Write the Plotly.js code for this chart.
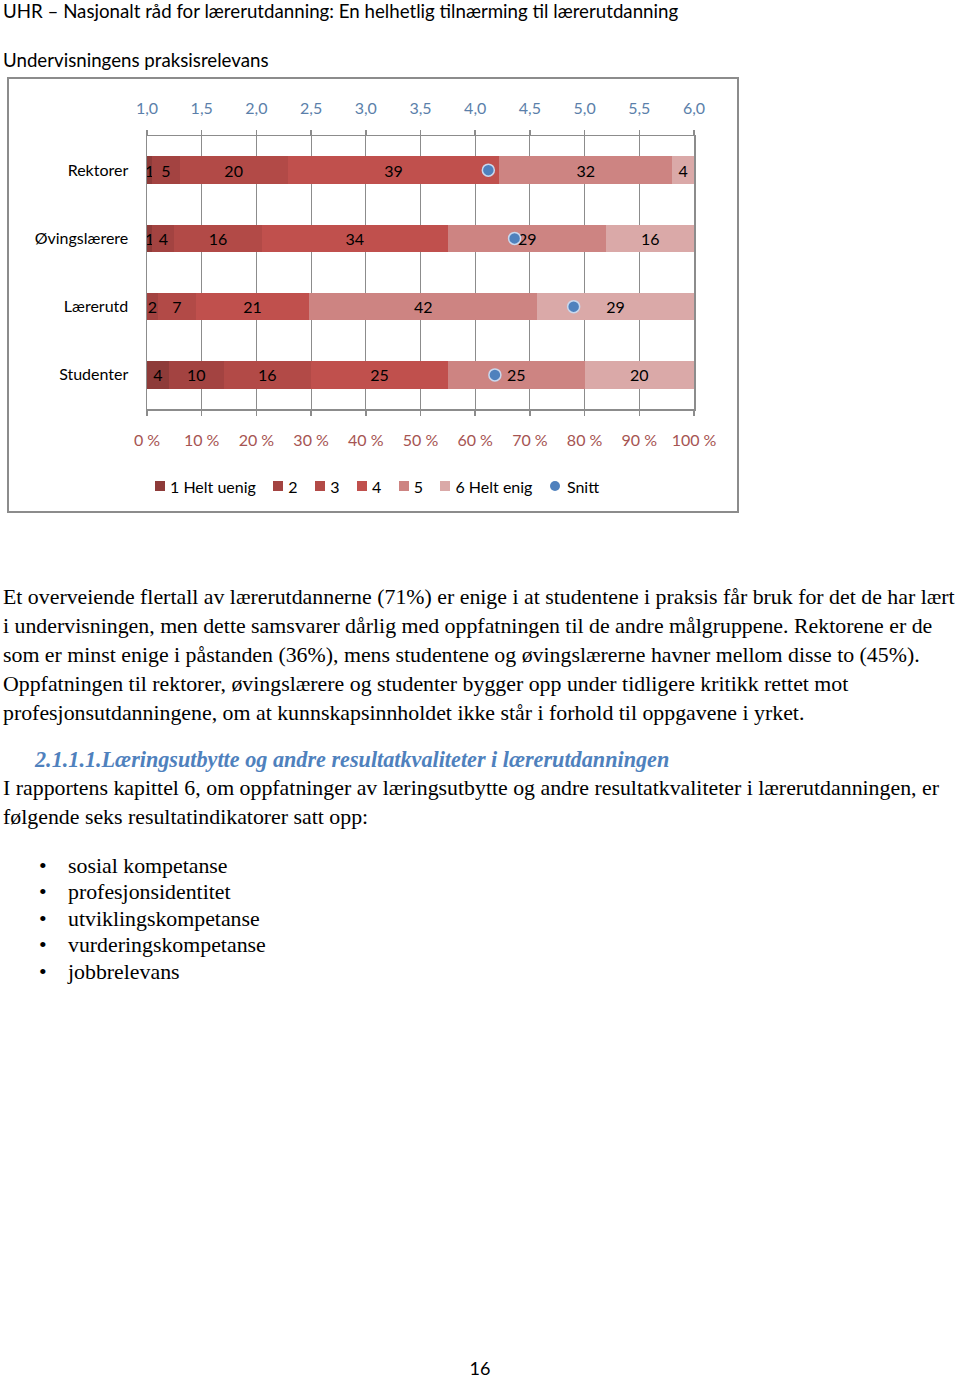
<!DOCTYPE html>
<html>
<head>
<meta charset="utf-8">
<script src="https://cdn.plot.ly/plotly-3.0.1.min.js"></script>
<style>
  html, body { margin:0; padding:0; background:#fff; }
  body { width:960px; height:1377px; position:relative; overflow:hidden; }
  .cal { font-family: Lato, "Open Sans", sans-serif; color:#000; position:absolute; white-space:nowrap; }
  .ser { font-family: "Liberation Serif", "Times New Roman", serif; color:#000; position:absolute; white-space:nowrap; }
  #chart { position:absolute; left:7px; top:77px; width:732px; height:436px; border:2px solid #8c8c8c; box-sizing:border-box; }
  .ln { height:29px; line-height:29px; }
  .bl { height:26.5px; line-height:26.5px; position:relative; }
  .bl span.b { position:absolute; left:-29px; }
  #legend { position:absolute; left:155px; top:476px; height:20px; display:flex; align-items:center;
            font-family: Lato, "Open Sans", sans-serif; font-size:16px; color:#000; white-space:nowrap; }
  #legend .it { display:flex; align-items:center; margin-right:17.5px; }
  #legend .sw { width:10px; height:10px; margin-right:5px; }
  #legend .dot { width:10px; height:10px; border-radius:50%; margin-right:7px; background:#4F81BD; }
</style>
</head>
<body>
<div class="cal" style="left:3px; top:0px; font-size:18.7px; line-height:22px;">UHR – Nasjonalt råd for lærerutdanning: En helhetlig tilnærming til lærerutdanning</div>
<div class="cal" style="left:3px; top:49px; font-size:18.7px; line-height:22px;">Undervisningens praksisrelevans</div>

<div id="chart"></div>
<div id="legend"></div>

<div class="ser" style="left:3px; top:582.5px; font-size:21.85px;">
  <div class="ln">Et overveiende flertall av lærerutdannerne (71%) er enige i at studentene i praksis får bruk for det de har lært</div>
  <div class="ln">i undervisningen, men dette samsvarer dårlig med oppfatningen til de andre målgruppene. Rektorene er de</div>
  <div class="ln">som er minst enige i påstanden (36%), mens studentene og øvingslærerne havner mellom disse to (45%).</div>
  <div class="ln">Oppfatningen til rektorer, øvingslærere og studenter bygger opp under tidligere kritikk rettet mot</div>
  <div class="ln">profesjonsutdanningene, om at kunnskapsinnholdet ikke står i forhold til oppgavene i yrket.</div>
</div>

<div class="ser" style="left:35px; top:744.5px; font-size:22.2px; font-weight:bold; font-style:italic; color:#4F81BD; line-height:29px;">2.1.1.1.Læringsutbytte og andre resultatkvaliteter i lærerutdanningen</div>

<div class="ser" style="left:3px; top:773.5px; font-size:21.85px;">
  <div class="ln">I rapportens kapittel 6, om oppfatninger av læringsutbytte og andre resultatkvaliteter i lærerutdanningen, er</div>
  <div class="ln">følgende seks resultatindikatorer satt opp:</div>
</div>

<div class="ser" style="left:68px; top:852.75px; font-size:21.85px;">
  <div class="bl"><span class="b">•</span>sosial kompetanse</div>
  <div class="bl"><span class="b">•</span>profesjonsidentitet</div>
  <div class="bl"><span class="b">•</span>utviklingskompetanse</div>
  <div class="bl"><span class="b">•</span>vurderingskompetanse</div>
  <div class="bl"><span class="b">•</span>jobbrelevans</div>
</div>

<div class="cal" style="left:0; width:960px; text-align:center; top:1359px; font-size:18px; line-height:18px;">16</div>

<script>
// ---- data ----
const groups = ["Rektorer", "Øvingslærere", "Lærerutd", "Studenter"];
const seriesNames = ["1 Helt uenig", "2", "3", "4", "5", "6 Helt enig"];
const s1 = [1, 1, 0, 4];
const s2 = [5, 4, 2, 10];
const s3 = [20, 16, 7, 16];
const s4 = [39, 34, 21, 25];
const s5 = [32, 29, 42, 25];
const s6 = [4, 16, 29, 20];
const snitt = [4.12, 4.36, 4.90, 4.18];
const snittName = "Snitt";

// ---- styles ----
const colors = ["#8E3B39", "#A34341", "#B24A47", "#C0504D", "#CD8482", "#DAA9A8"];
const font = "Lato, 'Open Sans', sans-serif";
const allSeries = [s1, s2, s3, s4, s5, s6];

const traces = allSeries.map((vals, i) => ({
  type: "bar",
  orientation: "h",
  name: seriesNames[i],
  y: groups,
  x: vals,
  text: vals.map(v => v ? String(v) : ""),
  textposition: "inside",
  insidetextanchor: "middle",
  textangle: 0,
  textfont: { family: font, size: 16, color: "#000" },
  marker: { color: colors[i], line: { width: 0 } },
  hoverinfo: "skip",
  showlegend: false
}));

traces.push({
  type: "scatter",
  mode: "markers",
  name: snittName,
  x: snitt,
  y: groups,
  xaxis: "x2",
  marker: { size: 12, color: "#4F81BD", line: { color: "#C9D8EE", width: 1.5 } },
  hoverinfo: "skip",
  showlegend: false
});

const layout = {
  width: 728,
  height: 432,
  margin: { l: 138, r: 43, t: 57, b: 102 },
  paper_bgcolor: "#fff",
  plot_bgcolor: "#fff",
  barmode: "stack",
  barnorm: "percent",
  bargap: 0.6,
  separators: ", ",
  showlegend: false,
  uniformtext: { mode: "show", minsize: 16 },
  font: { family: font, size: 16, color: "#000" },
  xaxis: {
    range: [0, 100],
    dtick: 10,
    tick0: 0,
    ticksuffix: " %",
    showgrid: true,
    gridcolor: "#8c8c8c",
    gridwidth: 1,
    zeroline: false,
    showline: true,
    linecolor: "#8c8c8c",
    linewidth: 1.5,
    ticks: "outside",
    ticklen: 5,
    tickcolor: "#8c8c8c",
    tickwidth: 1.5,
    ticklabelstandoff: 11,
    tickfont: { family: font, size: 16, color: "#A65452" },
    fixedrange: true
  },
  xaxis2: {
    overlaying: "x",
    side: "top",
    range: [1, 6],
    dtick: 0.5,
    tick0: 1,
    tickformat: ".1f",
    showgrid: false,
    zeroline: false,
    showline: true,
    linecolor: "#8c8c8c",
    linewidth: 1.5,
    ticks: "outside",
    ticklen: 5,
    tickcolor: "#8c8c8c",
    tickwidth: 1.5,
    ticklabelstandoff: 9,
    tickfont: { family: font, size: 16, color: "#5B7FAA" },
    fixedrange: true
  },
  yaxis: {
    type: "category",
    autorange: "reversed",
    showgrid: false,
    zeroline: false,
    showline: true,
    mirror: true,
    linecolor: "#8c8c8c",
    linewidth: 1.5,
    ticks: "",
    ticklabelstandoff: 14,
    tickfont: { family: font, size: 16, color: "#000" },
    fixedrange: true
  }
};

Plotly.newPlot("chart", traces, layout, { displayModeBar: false, staticPlot: true });

// ---- legend (built from the same names and colours) ----
const leg = document.getElementById("legend");
seriesNames.forEach((nm, i) => {
  const it = document.createElement("div"); it.className = "it";
  const sw = document.createElement("div"); sw.className = "sw"; sw.style.background = colors[i];
  const tx = document.createElement("span"); tx.textContent = nm;
  it.appendChild(sw); it.appendChild(tx); leg.appendChild(it);
});
{
  const it = document.createElement("div"); it.className = "it";
  const d = document.createElement("div"); d.className = "dot";
  const tx = document.createElement("span"); tx.textContent = snittName;
  it.appendChild(d); it.appendChild(tx); leg.appendChild(it);
}
</script>
</body>
</html>
